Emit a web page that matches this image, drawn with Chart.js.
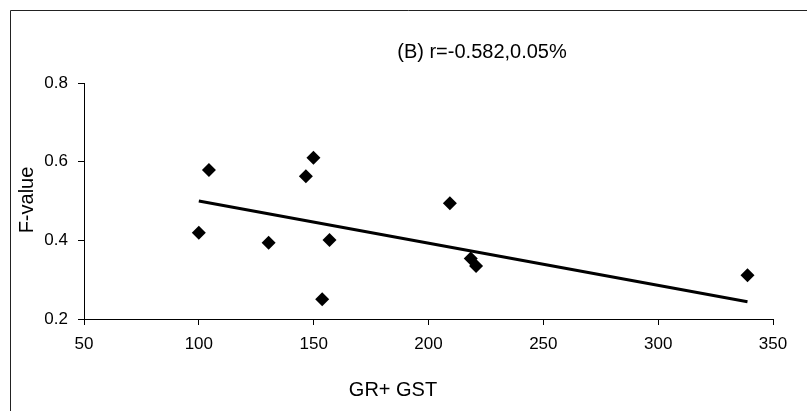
<!DOCTYPE html>
<html>
<head>
<meta charset="utf-8">
<script src="https://cdn.jsdelivr.net/npm/chart.js@4/dist/chart.umd.min.js"></script>
<style>
  html, body { margin: 0; padding: 0; background: #fff; }
  #wrap { width: 807px; height: 411px; position: relative; }
</style>
</head>
<body>
<div id="wrap"><canvas id="scatterChart"></canvas></div>
<script>
// data
const grGst  = [100, 104.4, 130.4, 146.6, 149.9, 153.7, 156.9, 209.3, 218.4, 220.7, 338.9];
const fValue = [0.419, 0.579, 0.394, 0.563, 0.610, 0.250, 0.401, 0.494, 0.354, 0.335, 0.311];
const trendX = [100, 338.9];
const trendY = [0.500, 0.244];
const xTicks = [50, 100, 150, 200, 250, 300, 350];
const yTicks = [0.2, 0.4, 0.6, 0.8];
const titleText = '(B) r=-0.582,0.05%';
const xTitle = 'GR+ GST';
const yTitle = 'F-value';

const FONT = '"Liberation Sans", Arial, sans-serif';

// frame + titles, drawn where they sit in the original
const decor = {
    id: 'decor',
    beforeDraw(chart) {
        const c = chart.ctx;
        c.save();
        c.strokeStyle = '#222';
        c.lineWidth = 1;
        c.beginPath();
        c.moveTo(10.5, 411);
        c.lineTo(10.5, 10.5);
        c.lineTo(807, 10.5);
        c.stroke();
        c.restore();
    },
    afterDraw(chart) {
        const c = chart.ctx;
        c.save();
        c.fillStyle = '#000';
        c.font = '20px ' + FONT;
        c.textAlign = 'center';
        c.textBaseline = 'middle';
        c.fillText(titleText, 482, 52);
        c.fillText(xTitle, 393, 390);
        c.translate(27, 200);
        c.rotate(-Math.PI / 2);
        c.fillText(yTitle, 0, 0);
        c.restore();
    }
};

const ctx = document.getElementById('scatterChart').getContext('2d');
new Chart(ctx, {
    type: 'scatter',
    data: {
        datasets: [{
            label: 'F-value',
            data: grGst.map((x, i) => ({ x: x, y: fValue[i] })),
            pointStyle: 'rectRot',
            pointRadius: 7,
            pointHoverRadius: 7,
            backgroundColor: '#000',
            borderColor: '#000',
            borderWidth: 0
        }, {
            label: 'Linear',
            data: trendX.map((x, i) => ({ x: x, y: trendY[i] })),
            showLine: true,
            pointRadius: 0,
            borderColor: '#000',
            borderWidth: 3,
            fill: false
        }]
    },
    options: {
        responsive: true,
        maintainAspectRatio: false,
        animation: false,
        layout: { padding: { top: 83, right: 34, left: 0, bottom: 0 } },
        plugins: {
            legend: { display: false },
            tooltip: { enabled: false },
            title: { display: false }
        },
        scales: {
            x: {
                type: 'linear',
                min: xTicks[0],
                max: xTicks[xTicks.length - 1],
                afterFit: s => { s.height = 92; },
                afterBuildTicks: s => { s.ticks = xTicks.map(v => ({ value: v })); },
                grid: { drawOnChartArea: false, tickLength: 6, color: '#000', tickColor: '#000' },
                border: { display: true, color: '#000', width: 1 },
                ticks: {
                    color: '#000',
                    padding: 9,
                    font: { family: FONT, size: 17 },
                    callback: v => String(v)
                }
            },
            y: {
                type: 'linear',
                min: yTicks[0],
                max: yTicks[yTicks.length - 1],
                afterFit: s => { s.width = 84; },
                afterBuildTicks: s => { s.ticks = yTicks.map(v => ({ value: v })); },
                grid: { drawOnChartArea: false, tickLength: 6, color: '#000', tickColor: '#000' },
                border: { display: true, color: '#000', width: 1 },
                ticks: {
                    color: '#000',
                    padding: 10,
                    font: { family: FONT, size: 17 },
                    callback: v => Number(v).toFixed(1)
                }
            }
        }
    },
    plugins: [decor]
});
</script>
</body>
</html>
